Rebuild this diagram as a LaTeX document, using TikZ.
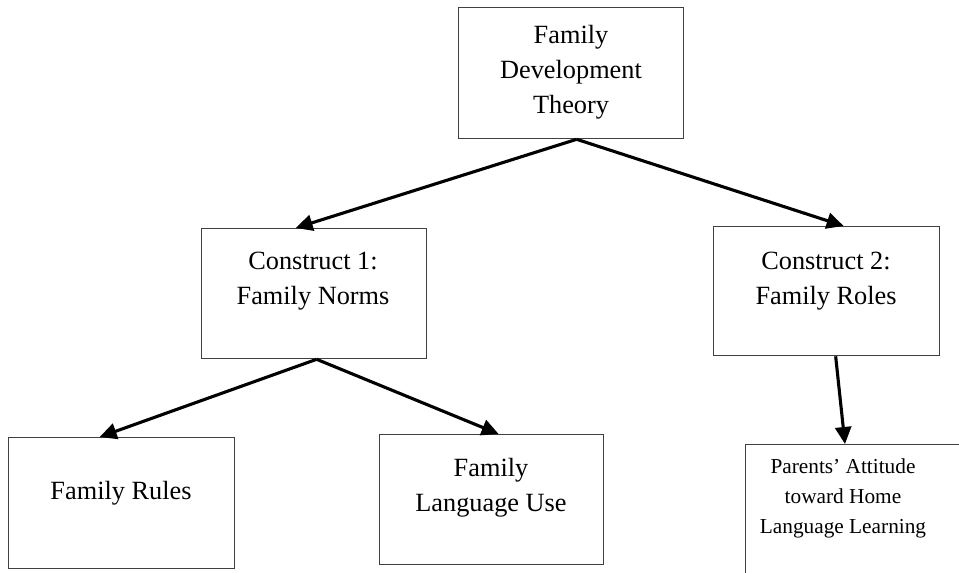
\documentclass[tikz,border=0pt]{standalone}
\usepackage{fontspec}
\setmainfont{Liberation Serif}
\usetikzlibrary{arrows.meta}
\begin{document}
\begin{tikzpicture}[x=1pt,y=-1pt,
  box/.style={draw=black!75, line width=1.3pt, inner sep=0pt, anchor=north west},
  big/.style={font=\fontsize{26.3}{35}\selectfont, anchor=base, inner sep=0pt},
  small/.style={font=\fontsize{21.3}{30}\selectfont, anchor=base, inner sep=0pt},
  conn/.style={line width=3.1pt, -{Triangle[length=17pt,width=16pt]}}]
\clip (0,0) rectangle (959,573);
% boxes
\node[box, minimum width=225pt, minimum height=131pt] (top) at (458,7) {};
\node[box, minimum width=225pt, minimum height=130pt] (c1) at (201,228) {};
\node[box, minimum width=226pt, minimum height=129pt] (c2) at (713,226) {};
\node[box, minimum width=226pt, minimum height=131pt] (fr) at (8,437) {};
\node[box, minimum width=224pt, minimum height=130pt] (flu) at (379,434) {};
\node[box, minimum width=240pt, minimum height=160pt] (pa) at (745,444) {};
% texts
\node[big] (t1) at (571,43) {Family};
\node[big] (t2) at (571,78) {Development};
\node[big] (t3) at (571,113) {Theory};
\node[big] (c1a) at (313,269) {Construct 1:};
\node[big] (c1b) at (313,304) {Family Norms};
\node[big] (c2a) at (826,269) {Construct 2:};
\node[big] (c2b) at (826,304) {Family Roles};
\node[big] (fra) at (121,499) {Family Rules};
\node[big] (flua) at (491,476) {Family};
\node[big] (flub) at (491,511) {Language Use};
\node[small] (paa) at (843,473) {Parents’ Attitude};
\node[small] (pab) at (843,503) {toward Home};
\node[small] (pac) at (843,533) {Language Learning};
% connectors
\draw[conn] ([xshift=5.5pt]top.south) -- ([xshift=-18.5pt]c1.north);
\draw[conn] ([xshift=5.5pt]top.south) -- ([xshift=17pt]c2.north);
\draw[conn] ([xshift=2.5pt]c1.south) -- ([xshift=-22pt]fr.north);
\draw[conn] ([xshift=2.5pt]c1.south) -- ([xshift=7pt]flu.north);
\draw[conn] ([xshift=9pt]c2.south) -- (pa.north west -| 845,0);
\end{tikzpicture}
\end{document}
